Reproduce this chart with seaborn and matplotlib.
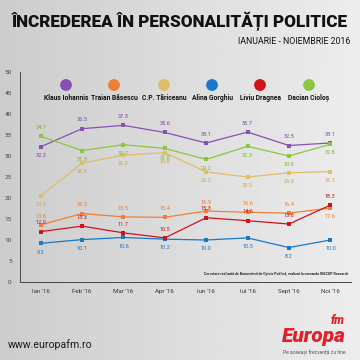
import numpy as np
import matplotlib
matplotlib.use('Agg')
import matplotlib.pyplot as plt
import matplotlib.ticker as mticker
import pandas as pd
import seaborn as sns

months = ["Ian '16", "Feb '16", "Mar '16", "Apr '16", "Iun '16", "Iul '16", "Sept '16", "Noi '16"]
names = ['Klaus Iohannis', 'Traian Băsescu', 'C.P. Tăriceanu', 'Alina Gorghiu', 'Liviu Dragnea', 'Dacian Cioloș']

iohannis = [32.2, 36.5, 37.3, 35.6, 33.1, 35.7, 32.5, 33.1]
basescu = [13.6, 16.3, 15.5, 15.4, 16.9, 16.6, 16.4, 17.6]
tariceanu = [20.5, 28.3, 30.2, 30.8, 26.2, 25.0, 26.0, 26.3]
gorghiu = [9.2, 10.1, 10.6, 10.2, 10.0, 10.5, 8.2, 10.0]
dragnea = [12.0, 13.3, 11.7, 10.5, 15.3, 14.6, 13.8, 18.3]
ciolos = [34.7, 31.3, 32.7, 31.8, 29.2, 32.3, 30.0, 32.8]

colors = ['#8a4fb3', '#f07f35', '#e0bd68', '#1a78c9', '#d0121b', '#8cc63f']
label_colors = ['#7a3fa3', '#ee7a2e', '#c9a650', '#1a72c0', '#c8101a', '#7fb534']
# +1 label above point, -1 below
label_side = {
    'Klaus Iohannis': [-1, 1, 1, 1, 1, 1, 1, 1],
    'Traian Băsescu': [1, 1, 1, 1, 1, 1, 1, -1],
    'C.P. Tăriceanu': [-1] * 8,
    'Alina Gorghiu': [-1] * 8,
    'Liviu Dragnea': [1] * 8,
    'Dacian Cioloș': [1, -1, -1, -1, -1, -1, -1, -1],
}

series = [iohannis, basescu, tariceanu, gorghiu, dragnea, ciolos]
rows = []
for n, vals in zip(names, series):
    for m, v in zip(months, vals):
        rows.append({'month': m, 'name': n, 'value': v})
df = pd.DataFrame(rows)

sns.set_style('white')
plt.rcParams['font.family'] = ['Roboto', 'DejaVu Sans']

fig = plt.figure(figsize=(3.6, 3.6), dpi=100)
fig.patch.set_facecolor('#dcdcdc')

# soft gray background
bg = fig.add_axes([0, 0, 1, 1], zorder=-5)
grad = np.tile(np.linspace(0.80, 0.93, 256), (256, 1))
bg.imshow(grad, cmap='gray', vmin=0, vmax=1, aspect='auto', extent=[0, 1, 0, 1])
bg.axis('off')

ax = fig.add_axes([20 / 360, 1 - 282 / 360, 331 / 360, 210 / 360])
ax.patch.set_alpha(0)
sns.lineplot(data=df, x='month', y='value', hue='name', hue_order=names,
             palette=colors, marker='s', markersize=3, markeredgewidth=0,
             linewidth=0.9, sort=False, legend=False, ax=ax)

for n, vals, c in zip(names, series, label_colors):
    for i, v in enumerate(vals):
        s = label_side[n][i]
        ax.annotate(f'{v:.1f}', (i, v), xytext=(0, 4.5 * s), textcoords='offset points',
                    ha='center', va='bottom' if s > 0 else 'top', fontsize=4,
                    color=c)

ax.set_xlim(-0.5, 7.5)
ax.set_ylim(0, 50)
ax.set_yticks(np.arange(0, 51, 5))
ax.xaxis.set_minor_locator(mticker.FixedLocator(np.arange(-0.5, 8, 1)))
ax.tick_params(axis='x', which='major', length=0, labelsize=4.4, pad=5, colors='#333333')
ax.tick_params(axis='x', which='minor', length=4, width=0.6, direction='inout', color='#333333')
ax.tick_params(axis='y', length=3, width=0.6, labelsize=4.6, pad=3, colors='#444444')
ax.set_xlabel('')
ax.set_ylabel('')
for sp in ['top', 'right']:
    ax.spines[sp].set_visible(False)
for sp in ['left', 'bottom']:
    ax.spines[sp].set_color('#444444')
    ax.spines[sp].set_linewidth(0.7)

# legend
leg_x = [66, 114, 164, 212, 260, 309]
for x, n, c in zip(leg_x, names, colors):
    fig.add_artist(plt.Circle((x / 360, 1 - 85 / 360), 5.2 / 360, color=c,
                              transform=fig.transFigure))
    fig.text(x / 360, 1 - 98 / 360, n, ha='center', va='center', fontsize=4.9,
             fontweight='bold', color='#111111')

fig.text(348 / 360, 1 - 274 / 360,
         'Cercetare realizată de Barometrul de Opinie Publică, realizat la comanda INSCOP Research',
         ha='right', va='center', fontsize=2.5, fontweight='bold', color='#222222')

fig.text(0.5, 1 - 21 / 360, 'ÎNCREDEREA ÎN PERSONALITĂȚI POLITICE', ha='center', va='center',
         fontsize=12.3, fontweight='black', color='#111111')
fig.text(350 / 360, 1 - 42 / 360, 'IANUARIE - NOIEMBRIE 2016', ha='right', va='center',
         fontsize=6.3, color='#111111')

fig.text(8 / 360, 1 - 345 / 360, 'www.europafm.ro', ha='left', va='center',
         fontsize=7.6, color='#1a1a1a')
fig.text(314 / 360, 1 - 336 / 360, 'Europa', ha='center', va='center', fontsize=15,
         fontweight='black', style='italic', color='#e3202a')
fig.text(338 / 360, 1 - 320 / 360, 'fm', ha='center', va='center', fontsize=8.5,
         fontweight='black', style='italic', color='#e3202a')
fig.text(314 / 360, 1 - 353 / 360, 'Pe aceeași frecvență cu tine', ha='center', va='center',
         fontsize=3.6, color='#555555')

fig.savefig('out.png', dpi=100, facecolor=fig.get_facecolor())
